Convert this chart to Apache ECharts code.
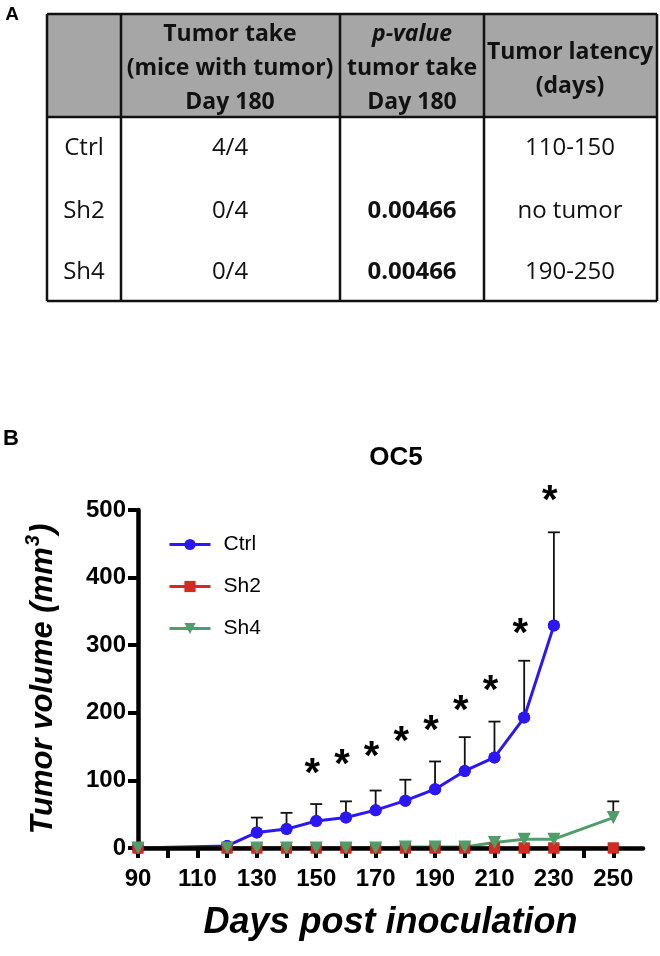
<!DOCTYPE html>
<html>
<head>
<meta charset="utf-8">
<script src="https://cdn.jsdelivr.net/npm/echarts@6/dist/echarts.min.js"></script>
<style>
html,body{margin:0;padding:0;background:#fff;}
#main{width:660px;height:956px;}
</style>
</head>
<body>
<div id="main"></div>
<script>
// ---- Table data (panel A) ----
const headerCol1 = ['Tumor take', '(mice with tumor)', 'Day 180'];
const headerCol2 = ['p-value', 'tumor take', 'Day 180'];
const headerCol3 = ['Tumor latency', '(days)'];
const rowLabels = ['Ctrl', 'Sh2', 'Sh4'];
const tumorTake = ['4/4', '0/4', '0/4'];
const pValues = ['', '0.00466', '0.00466'];
const latency = ['110-150', 'no tumor', '190-250'];

// ---- Chart data (panel B) ----
const ctrlDays = [90, 120, 130, 140, 150, 160, 170, 180, 190, 200, 210, 220, 230];
const ctrlMean = [0, 3, 23, 28, 40, 45, 56, 70, 87, 114, 134, 193, 329];
const ctrlUpper = [null, null, 45, 52, 65, 69, 85, 101, 128, 164, 187, 277, 467];
const shDays = [90, 120, 130, 140, 150, 160, 170, 180, 190, 200, 210, 220, 230, 250];
const sh2Mean = [0, 0, 0, 0, 0, 0, 0, 0, 0, 0, 0, 0, 0, 0];
const sh4Mean = [0, 0, 0, 0, 0, 0, 0, 1.5, 1.5, 1.5, 8, 13, 13, 45];
const sh4Upper = [null, null, null, null, null, null, null, null, null, null, null, null, null, 69];
const starDays = [150, 160, 170, 180, 190, 200, 210, 220, 230];
const starY = [121, 135, 146, 168, 185, 214, 244, 329, 525];
const xTickValues = [90, 100, 110, 120, 130, 140, 150, 160, 170, 180, 190, 200, 210, 220, 230, 240, 250];
const xLabelValues = [90, 110, 130, 150, 170, 190, 210, 230, 250];

const C_BLUE = '#2b17f5', C_RED = '#d32b1f', C_GREEN = '#4f9d68';
const FONT = "'Liberation Sans', Arial, sans-serif";
const TFONT = "'Open Sans', sans-serif";

const zip = (xs, ys) => xs.map((x, i) => [x, ys[i]]);

// ---- table graphics ----
const T = { l: 47, r: 657, t: 14, hb: 117, b: 301, cols: [121, 340, 484] };
const colCenters = [84, 230, 412, 570];
const rowY = [148, 211, 272];
const g = [];
g.push({ type: 'rect', shape: { x: T.l, y: T.t, width: T.r - T.l, height: T.hb - T.t }, style: { fill: '#a6a6a6' } });
const ln = (x1, y1, x2, y2, w) => g.push({ type: 'line', shape: { x1, y1, x2, y2 }, style: { stroke: '#111', lineWidth: w } });
ln(T.l, T.t, T.r, T.t, 2.5); ln(T.l, T.b, T.r, T.b, 2.5);
ln(T.l, T.t, T.l, T.b, 2.5); ln(T.r, T.t, T.r, T.b, 2.5);
ln(T.l, T.hb, T.r, T.hb, 2.5);
T.cols.forEach(x => ln(x, T.t, x, T.b, 2.5));
const txt = (s, x, y, opt) => g.push({ type: 'text', x, y, style: Object.assign({ text: s, align: 'center', verticalAlign: 'middle', fontFamily: TFONT, fontSize: 24, fill: '#111' }, opt || {}) });
[34, 68, 102].forEach((y, i) => txt(headerCol1[i], colCenters[1], y, { fontWeight: 'bold', fontSize: 23 }));
[34, 68, 102].forEach((y, i) => txt(headerCol2[i], colCenters[2], y, { fontWeight: 'bold', fontSize: 23, fontStyle: i === 0 ? 'italic' : 'normal' }));
[52, 86].forEach((y, i) => txt(headerCol3[i], colCenters[3], y, { fontWeight: 'bold', fontSize: 23 }));
rowY.forEach((y, i) => {
  txt(rowLabels[i], colCenters[0], y);
  txt(tumorTake[i], colCenters[1], y);
  txt(pValues[i], colCenters[2], y, { fontWeight: 'bold' });
  txt(latency[i], colCenters[3], y);
});
g.push({ type: 'text', x: 12, y: 15, style: { text: 'A', align: 'center', verticalAlign: 'middle', fontFamily: FONT, fontWeight: 'bold', fontSize: 19, fill: '#000' } });
g.push({ type: 'text', x: 11, y: 439, style: { text: 'B', align: 'center', verticalAlign: 'middle', fontFamily: FONT, fontWeight: 'bold', fontSize: 22, fill: '#000' } });

// ---- error bars ----
function errorBarSeries(name, xs, means, uppers) {
  const data = [];
  xs.forEach((x, i) => { if (uppers[i] != null) data.push([x, means[i], uppers[i]]); });
  return {
    type: 'custom', name: name + '_err', z: 1, clip: false, silent: true,
    data: data,
    renderItem: function (params, api) {
      const p0 = api.coord([api.value(0), api.value(1)]);
      const p1 = api.coord([api.value(0), api.value(2)]);
      return {
        type: 'group', children: [
          { type: 'line', shape: { x1: p0[0], y1: p0[1], x2: p1[0], y2: p1[1] }, style: { stroke: '#111', lineWidth: 1.8 } },
          { type: 'line', shape: { x1: p1[0] - 6, y1: p1[1], x2: p1[0] + 6, y2: p1[1] }, style: { stroke: '#111', lineWidth: 1.8 } }
        ]
      };
    }
  };
}

const chart = echarts.init(document.getElementById('main'), null, { renderer: 'canvas' });
const option = {
  backgroundColor: '#fff',
  animation: false,
  title: {
    text: 'OC5', left: 391, top: 440, textAlign: 'center',
    textStyle: { fontFamily: FONT, fontWeight: 'bold', fontSize: 26, color: '#000' }
  },
  legend: {
    orient: 'vertical', left: 163, top: 529, itemWidth: 41, itemHeight: 14, itemGap: 21,
    data: ['Ctrl', 'Sh2', 'Sh4'],
    lineStyle: { width: 3 },
    textStyle: { fontFamily: FONT, fontSize: 21, color: '#000', padding: [0, 0, 0, 8] }
  },
  grid: { left: 138, right: 17, top: 510, bottom: 108, containLabel: false },
  xAxis: {
    type: 'value', min: 90, max: 260, interval: 10, z: 2,
    name: 'Days post inoculation', nameLocation: 'middle', nameGap: 57,
    nameTextStyle: { fontFamily: FONT, fontWeight: 'bold', fontStyle: 'italic', fontSize: 36, color: '#000' },
    axisLine: { show: true, onZero: false, lineStyle: { color: '#000', width: 4.5 } },
    axisTick: { show: true, inside: false, length: 10, lineStyle: { color: '#000', width: 4 }, customValues: xTickValues },
    axisLabel: { margin: 19, fontFamily: FONT, fontWeight: 'bold', fontSize: 24, color: '#000', customValues: xLabelValues },
    splitLine: { show: false }
  },
  yAxis: {
    type: 'value', min: 0, max: 500, interval: 100, z: 2,
    name: '{a|Tumor volume (mm}{s|3}{a|)}', nameLocation: 'middle', nameGap: 79, nameRotate: 90,
    nameTextStyle: {
      fontFamily: FONT, fontWeight: 'bold', fontStyle: 'italic', fontSize: 31, color: '#000',
      rich: {
        a: { fontFamily: FONT, fontWeight: 'bold', fontStyle: 'italic', fontSize: 31, lineHeight: 36, color: '#000', verticalAlign: 'bottom' },
        s: { fontFamily: FONT, fontWeight: 'bold', fontStyle: 'italic', fontSize: 20, lineHeight: 36, color: '#000', verticalAlign: 'top', padding: [0, 1, 0, 1] }
      }
    },
    axisLine: { show: true, lineStyle: { color: '#000', width: 4.5 } },
    axisTick: { show: true, inside: false, length: 10, lineStyle: { color: '#000', width: 4 } },
    axisLabel: { margin: 12, fontFamily: FONT, fontWeight: 'bold', fontSize: 24, color: '#000' },
    splitLine: { show: false }
  },
  graphic: g,
  series: [
    { name: 'Ctrl', type: 'line', z: 1, data: zip(ctrlDays, ctrlMean), symbol: 'circle', symbolSize: 12, color: C_BLUE, lineStyle: { width: 3, color: C_BLUE }, itemStyle: { color: C_BLUE } },
    { name: 'Sh2', type: 'line', z: 1, data: zip(shDays, sh2Mean), symbol: 'rect', symbolSize: 11, color: C_RED, lineStyle: { width: 3, color: C_RED }, itemStyle: { color: C_RED } },
    { name: 'Sh4', type: 'line', z: 1, data: zip(shDays, sh4Mean), symbol: 'triangle', symbolRotate: 180, symbolSize: 12, color: C_GREEN, lineStyle: { width: 3, color: C_GREEN }, itemStyle: { color: C_GREEN } },
    errorBarSeries('Ctrl', ctrlDays, ctrlMean, ctrlUpper),
    errorBarSeries('Sh4', shDays, sh4Mean, sh4Upper),
    { name: 'Ctrl', type: 'scatter', z: 3, data: zip(ctrlDays, ctrlMean), symbol: 'circle', symbolSize: 12, itemStyle: { color: C_BLUE, opacity: 1 } },
    { name: 'Sh2', type: 'scatter', z: 3, data: zip(shDays, sh2Mean), symbol: 'rect', symbolSize: 11, itemStyle: { color: C_RED, opacity: 1 } },
    { name: 'Sh4', type: 'scatter', z: 3, data: zip(shDays, sh4Mean), symbol: 'triangle', symbolRotate: 180, symbolSize: 13, itemStyle: { color: C_GREEN, opacity: 1 } },
    {
      type: 'custom', name: 'stars', z: 3, clip: false, silent: true,
      data: zip(starDays, starY),
      renderItem: function (params, api) {
        const p = api.coord([api.value(0), api.value(1)]);
        return { type: 'text', x: p[0] - 4, y: p[1] + 9, style: { text: '*', align: 'center', verticalAlign: 'middle', fontFamily: FONT, fontWeight: 'bold', fontSize: 40, fill: '#000' } };
      }
    }
  ]
};
chart.setOption(option);
</script>
</body>
</html>
